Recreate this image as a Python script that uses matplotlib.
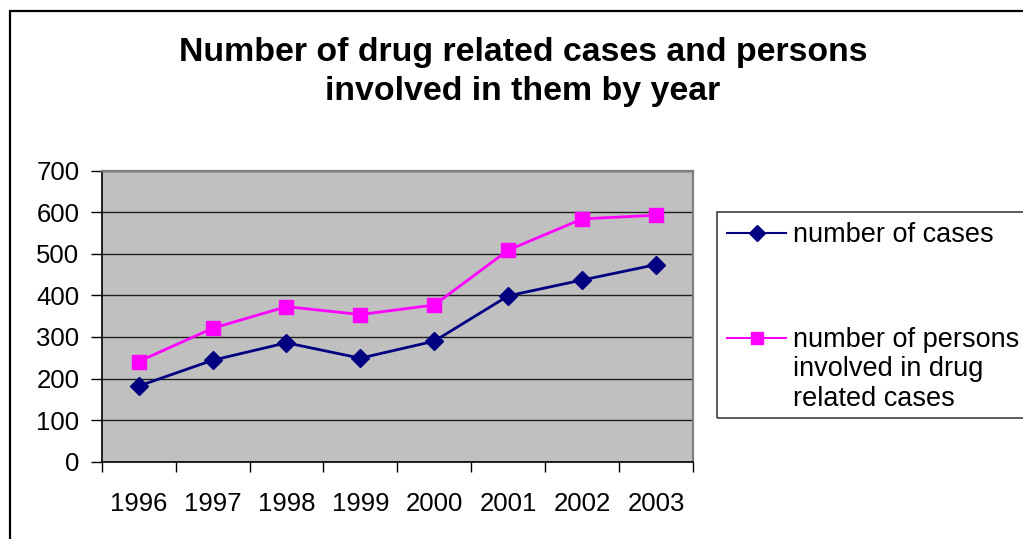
import matplotlib
matplotlib.use('Agg')
import matplotlib.pyplot as plt
from matplotlib.lines import Line2D
from matplotlib.patches import Rectangle

plt.rcParams['font.family'] = ['Liberation Sans', 'DejaVu Sans']

years = ['1996', '1997', '1998', '1999', '2000', '2001', '2002', '2003']
cases = [182, 244, 286, 249, 290, 399, 437, 474]
persons = [241, 321, 373, 354, 377, 509, 584, 593]
yticks = [0, 100, 200, 300, 400, 500, 600, 700]

navy = '#000080'
pink = '#FF00FF'

W, H = 1023, 539
fig = plt.figure(figsize=(W / 100, H / 100), dpi=100)

def fx(px):
    return px / W

def fy(py):
    return 1 - py / H

# outer chart frame (runs off the right and bottom edges)
fig.patches.append(Rectangle((fx(9.5), fy(560)), fx(1100), (560 - 11) / H,
                             transform=fig.transFigure, fill=False,
                             ec='black', lw=1.6, zorder=0))

ax = fig.add_axes([fx(101.7), fy(461.7), fx(693 - 101.7), (461.7 - 170.7) / H])
ax.set_facecolor('#C0C0C0')

x = list(range(len(years)))
ax.plot(x, cases, color=navy, lw=2, marker='D', ms=9, mec=navy, mfc=navy,
        label='number of cases', zorder=3)
ax.plot(x, persons, color=pink, lw=2, marker='s', ms=10, mec=pink, mfc=pink,
        label='number of persons\ninvolved in drug\nrelated cases', zorder=3)

ax.set_xlim(-0.5, len(years) - 0.5)
ax.set_ylim(0, 700)
ax.set_yticks(yticks)
ax.set_yticklabels([str(v) for v in yticks])
ax.yaxis.grid(True, color='#202020', lw=1)
ax.set_axisbelow(True)

# category labels sit between the boundary ticks
ax.set_xticks([i - 0.5 for i in range(len(years) + 1)])
ax.set_xticklabels([])
ax.set_xticks(x, minor=True)
ax.set_xticklabels(years, minor=True)
ax.tick_params(axis='x', which='minor', length=0, pad=22, labelsize=18.5)
ax.tick_params(axis='x', which='major', length=7, width=1, direction='out')
ax.tick_params(axis='y', length=8, width=1, direction='out', pad=8, labelsize=18.5)

for side in ['left', 'bottom']:
    ax.spines[side].set_color('black')
    ax.spines[side].set_linewidth(1.2)
for side in ['top', 'right']:
    ax.spines[side].set_color('#808080')
    ax.spines[side].set_linewidth(1.6)

fig.text(fx(523), fy(37), 'Number of drug related cases and persons\ninvolved in them by year',
         ha='center', va='top', fontsize=24.4, fontweight='bold', linespacing=1.34)

# legend box, drawn by hand so the text block can spill past the edge
fig.patches.append(Rectangle((fx(717), fy(418)), fx(400), (418 - 212) / H,
                             transform=fig.transFigure, fill=False,
                             ec='#404040', lw=1.2, zorder=5))
entries = [(233, navy, 'D', 8, 'number of cases'),
           (338, pink, 's', 8, 'number of persons\ninvolved in drug\nrelated cases')]
for py, col, mk, ms, lab in entries:
    fig.lines.append(Line2D([fx(727), fx(786)], [fy(py), fy(py)], color=col, lw=1.5,
                            transform=fig.transFigure))
    fig.lines.append(Line2D([fx(756.5)], [fy(py)], color=col, marker=mk, ms=ms,
                            mec=col, mfc=col, transform=fig.transFigure))
    fig.text(fx(793), fy(py - 11), lab, ha='left', va='top', fontsize=19.5,
             linespacing=1.17)

fig.savefig('out.png', dpi=100)
